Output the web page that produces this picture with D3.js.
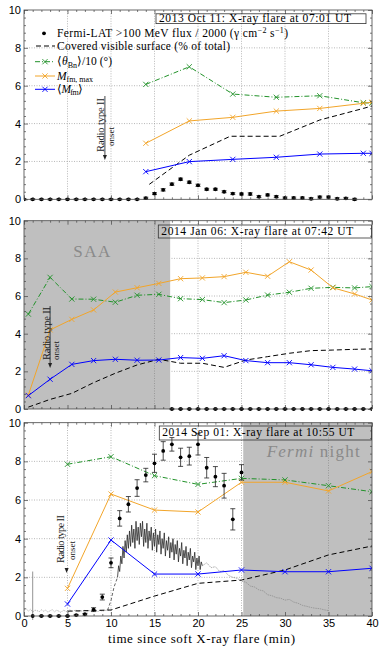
<!DOCTYPE html>
<html><head><meta charset="utf-8">
<script src="https://cdn.jsdelivr.net/npm/d3@7"></script>
<style>body{margin:0;background:#fff}svg{display:block}</style>
</head><body>
<script>
// ---------------- DATA ----------------
const xTicks = [0,5,10,15,20,25,30,35,40];
const yTicks = [0,2,4,6,8,10];
const titles = ["2013 Oct 11: X-ray flare at 07:01 UT","2014 Jan 06: X-ray flare at 07:42 UT","2014 Sep 01: X-ray flare at 10:55 UT"];

// Panel 1 (2013 Oct 11)
const p1FermiTime = [0,1,2,3,4,5,6,7,8,9,10,11,12,13,14,15,16,17,18,19,20,21,22,23,24,25,26,27,28,29,30,31,32,33,34,35,36,37,38];
const p1FermiFlux = [0,0,0,0,0,0,0,0,0,0,0,0,0,0,0.06,0.3,0.5,0.8,1.06,0.9,0.74,0.53,0.53,0.4,0.3,0.28,0.28,0.14,0.23,0.14,0.07,0.07,0.07,0.03,0.12,0.12,0.03,0.05,0];
const p1FermiErr  = [0.03,0.03,0.03,0.03,0.03,0.03,0.03,0.03,0.03,0.03,0.03,0.03,0.03,0.03,0.05,0.05,0.06,0.06,0.06,0.06,0.06,0.05,0.05,0.05,0.05,0.05,0.06,0.05,0.05,0.05,0.05,0.05,0.05,0.05,0.05,0.05,0.05,0.05,0.05];
const p1Time  = [14,19,24,29,34,39,40];
const p1Theta = [6.07,7.0,5.56,5.39,5.47,5.1,5.08];
const p1Mmax  = [2.96,4.14,4.33,4.66,4.8,5.07,5.13];
const p1Mfm   = [1.46,1.99,2.11,2.22,2.39,2.43,2.43];
const p1CovTime = [14.4,19,23.7,29.4,34,39,40];
const p1Cov     = [0.79,2.33,3.33,3.33,4.19,4.8,4.93];

// Panel 2 (2014 Jan 06)
const p2FermiTime = [17,18,19,20,21,22,23,24,25,26,27,28,29,30,31,32,33,34,35,36,37,38,39,40];
const p2FermiFlux = [0,0,0,0,0,0,0,0,0,0,0,0,0,0,0,0,0,0,0,0,0,0,0,0];
const p2FermiErr  = [0.03,0.03,0.03,0.03,0.03,0.03,0.03,0.03,0.03,0.03,0.03,0.03,0.03,0.03,0.03,0.03,0.03,0.03,0.03,0.03,0.03,0.03,0.03,0.03];
const p2Time  = [0.5,3,5.5,8,10.5,13,15.5,18,20.5,23,25.5,28,30.5,33,35.5,38,40];
const p2Theta = [5.04,6.99,5.84,5.83,5.67,6.04,6.09,5.86,5.81,5.65,5.79,6.05,6.2,6.41,6.46,6.43,6.5];
const p2Mmax  = [0.74,4.2,4.76,5.26,6.21,6.44,6.67,6.92,6.96,7.03,7.26,7.05,7.82,7.38,6.44,6.11,5.79];
const p2Mfm   = [0.71,1.58,2.37,2.57,2.64,2.59,2.6,2.73,2.69,2.83,2.57,2.46,2.46,2.35,2.21,2.12,2.03];
const p2Cov   = [0.1,0.51,0.83,1.4,1.9,2.34,2.64,2.43,2.43,2.21,2.6,2.78,2.96,3.1,3.13,3.17,3.19];
const p2Shade = [0,16.8];

// Panel 3 (2014 Sep 01)
const p3FermiTime = [1,2,3,4,5,6,7,8,9,10,11,12,13,14,15,16,17,18,19,20,21,22,23,24,25];
const p3FermiFlux = [0,0,0,0,0,0.05,0.09,0.33,0.98,2.75,5.05,5.78,6.62,7.29,7.9,8.54,8.88,8.21,8.27,8.88,7.67,7.21,6.74,5.0,7.43];
const p3FermiErr  = [2.3,0.03,0.03,0.03,0.03,0.03,0.04,0.1,0.15,0.25,0.4,0.4,0.43,0.35,0.47,0.48,0.35,0.47,0.46,0.55,0.53,0.52,0.64,0.55,0.4];
const p3Time  = [5,10,15,20,25,30,35,40];
const p3Theta = [7.85,8.24,7.26,6.81,7.12,7.04,6.74,6.43];
const p3Mmax  = [1.43,6.31,5.48,5.38,6.92,6.92,6.47,7.47];
const p3Mfm   = [0.62,3.93,2.17,2.17,2.38,2.29,2.29,2.47];
const p3Cov   = [0.25,0.31,1.03,1.69,1.86,2.38,3.16,3.62];
const p3Shade = [25.2,40];
// unlabelled grey light curve in panel 3 (uniformly sampled segments)
const grayPreStart = 0, grayPreStep = 0.25;
const grayPre  = [0.3,0.38,0.25,0.35,0.2,0.3,0.28,0.22,0.32,0.25,0.3,0.2,0.27,0.33,0.22,0.3,0.25,0.18,0.3,0.26,0.2,0.32,0.24,0.28,0.3,0.22,0.27,0.25,0.3,0.2,0.28,0.24,0.3,0.26,0.22,0.3,0.25,0.28,0.3,0.32];
const grayRiseTime = [9.6,10.0,10.35,10.75];
const grayRise = [0.3,0.8,1.5,2.0];
const grayMainStart = 10.75, grayMainStep = 0.125;
const grayMain = [2.0,2.6,2.3,3.1,2.7,3.6,3.0,3.9,3.3,4.2,3.5,4.4,3.6,4.7,3.8,4.5,3.5,4.9,3.9,4.6,3.7,4.8,4.1,4.9,3.6,4.5,3.8,4.8,3.5,4.4,3.9,4.6,3.4,4.3,3.6,4.5,3.3,4.2,3.7,4.4,3.2,4.0,3.5,4.3,3.1,3.9,3.4,4.1,3.0,3.8,3.3,4.0,2.9,3.7,3.2,3.9,2.8,3.5,3.1,3.8,2.7,3.4,3.0,3.6,2.6,3.3,2.9,3.5,2.5,3.1,2.8,3.3,2.4,3.0,2.6,3.1,2.4,2.8,2.6];
const grayTailStart = 20.5, grayTailStep = 0.5;
const grayTail = [2.6,2.75,2.5,2.55,2.3,2.35,2.1,2.0,1.95,1.8,1.75,1.55,1.5,1.35,1.3,1.1,1.05,0.95,0.92,0.82,0.86,0.72,0.66,0.55,0.5,0.44,0.4,0.38,0.32,0.28];

const radioOnset = [9.3, 3.0, 4.9];

// ---------------- DRAW ----------------
const W = 382, H = 654;
const svg = d3.select("body").append("svg").attr("width", W).attr("height", H);
const x = d3.scaleLinear().domain([0, 40]).range([24, 372]);
const panelBox = [{top:10, bot:199.3},{top:220.7, bot:409},{top:422.7, bot:616}];
const SERIF = "'Liberation Serif','Times New Roman',serif";
const SANS = "'Liberation Sans',Arial,sans-serif";
const C = {green:"#22922a", orange:"#f2a52a", blue:"#0000ff", shade:"#bfbfbf", grid:"#9a9a9a", axis:"#444"};

const panels = [
  {ft:p1FermiTime, ff:p1FermiFlux, fe:p1FermiErr, t:p1Time, th:p1Theta, mm:p1Mmax, mf:p1Mfm, ct:p1CovTime, cv:p1Cov, shade:null},
  {ft:p2FermiTime, ff:p2FermiFlux, fe:p2FermiErr, t:p2Time, th:p2Theta, mm:p2Mmax, mf:p2Mfm, ct:p2Time, cv:p2Cov, shade:p2Shade},
  {ft:p3FermiTime, ff:p3FermiFlux, fe:p3FermiErr, t:p3Time, th:p3Theta, mm:p3Mmax, mf:p3Mfm, ct:p3Time, cv:p3Cov, shade:p3Shade}
];

const xMarker = "M-2.6,-2.6L2.6,2.6M-2.6,2.6L2.6,-2.6";

panels.forEach((P, i) => {
  const pb = panelBox[i];
  const y = d3.scaleLinear().domain([0, 10]).range([pb.bot, pb.top]);
  const g = svg.append("g");
  const clipId = "clip" + i;
  svg.append("clipPath").attr("id", clipId).append("rect")
    .attr("x", x(0)).attr("y", y(10)).attr("width", x(40) - x(0)).attr("height", y(0) - y(10) + 4);
  const pg = g.append("g").attr("clip-path", `url(#${clipId})`);

  // grid
  xTicks.slice(1, -1).forEach(v => pg.append("line").attr("x1", x(v)).attr("x2", x(v)).attr("y1", y(0)).attr("y2", y(10))
    .attr("stroke", C.grid).attr("stroke-width", 0.7).attr("stroke-dasharray", "1,1.5"));
  yTicks.slice(1, -1).forEach(v => pg.append("line").attr("x1", x(0)).attr("x2", x(40)).attr("y1", y(v)).attr("y2", y(v))
    .attr("stroke", C.grid).attr("stroke-width", 0.7).attr("stroke-dasharray", "1,1.5"));

  // shading
  if (P.shade) {
    pg.append("rect").attr("x", x(P.shade[0])).attr("y", y(10)).attr("width", x(P.shade[1]) - x(P.shade[0]))
      .attr("height", y(0) - y(10)).attr("fill", C.shade);
  }
  if (i === 1) pg.append("line").attr("x1", x(15)).attr("x2", x(15)).attr("y1", y(0)).attr("y2", y(10))
    .attr("stroke", "#888").attr("stroke-width", 0.7).attr("stroke-dasharray", "1,1.5");
  if (i === 2) pg.append("line").attr("x1", x(35)).attr("x2", x(35)).attr("y1", y(0)).attr("y2", y(10))
    .attr("stroke", "#888").attr("stroke-width", 0.7).attr("stroke-dasharray", "1,1.5");

  // shade labels
  if (i === 1) g.append("text").attr("x", 91.7).attr("y", y(8.09)).attr("text-anchor", "middle")
    .attr("font-family", SERIF).attr("font-size", 17).attr("fill", "#8a8a8a")
    .attr("textLength", 37).attr("lengthAdjust", "spacing").text("SAA");
  if (i === 2) {
    const tt = g.append("text").attr("x", 266.7).attr("y", y(8.24))
      .attr("font-family", SERIF).attr("font-size", 17).attr("fill", "#8a8a8a")
      .attr("textLength", 93).attr("lengthAdjust", "spacing");
    tt.append("tspan").attr("font-style", "italic").text("Fermi");
    tt.append("tspan").text(" night");
  }

  // grey light curve (panel 3)
  if (i === 2) {
    const ln = d3.line().x(d => x(d[0])).y(d => y(d[1]));
    const pre = grayPre.map((v, k) => [grayPreStart + k * grayPreStep, v]);
    const rise = grayRise.map((v, k) => [grayRiseTime[k], v]);
    const main = grayMain.map((v, k) => [grayMainStart + k * grayMainStep, v]);
    const tail = grayTail.map((v, k) => [grayTailStart + k * grayTailStep, v]);
    pg.append("path").attr("d", ln(pre)).attr("fill", "none").attr("stroke", "#999").attr("stroke-width", 0.7).attr("stroke-dasharray", "1.5,1");
    pg.append("path").attr("d", ln(rise)).attr("fill", "none").attr("stroke", "#555").attr("stroke-width", 0.9).attr("stroke-dasharray", "3,2");
    pg.append("path").attr("d", ln(main)).attr("fill", "none").attr("stroke", "#2a2a2a").attr("stroke-width", 0.8);
    pg.append("path").attr("d", ln(tail)).attr("fill", "none").attr("stroke", "#8a8a8a").attr("stroke-width", 0.7).attr("stroke-dasharray", "1.5,0.8");
  }

  const line = d3.line().x(d => x(d[0])).y(d => y(d[1]));
  // covered surface
  pg.append("path").attr("d", line(P.cv.map((v, k) => [P.ct[k], v]))).attr("fill", "none")
    .attr("stroke", "#000").attr("stroke-width", 1).attr("stroke-dasharray", "5,3");
  // series
  [[P.th, C.green, "5,2,1,2"], [P.mm, C.orange, null], [P.mf, C.blue, null]].forEach(([vals, col, dash]) => {
    const pts = vals.map((v, k) => [P.t[k], v]);
    const p = pg.append("path").attr("d", line(pts)).attr("fill", "none").attr("stroke", col).attr("stroke-width", 1);
    if (dash) p.attr("stroke-dasharray", dash);
    pg.selectAll(null).data(pts).enter().append("path").attr("d", xMarker)
      .attr("transform", d => `translate(${x(d[0])},${y(d[1])})`).attr("stroke", col).attr("stroke-width", 0.9).attr("fill", "none");
  });
  // Fermi points with error bars
  const fd = P.ff.map((v, k) => ({t: P.ft[k], v, e: P.fe[k]}));
  pg.selectAll(null).data(fd).enter().append("line")
    .attr("x1", d => x(d.t)).attr("x2", d => x(d.t)).attr("y1", d => y(d.v - d.e)).attr("y2", d => y(d.v + d.e))
    .attr("stroke", d => (i === 2 && d.t === 1) ? "#777" : "#222").attr("stroke-width", 0.8);
  pg.selectAll(null).data(fd.filter(d => !(i === 2 && d.t === 1))).enter().append("path")
    .attr("d", d => `M${x(d.t) - 2.5},${y(d.v + d.e)}H${x(d.t) + 2.5}M${x(d.t) - 2.5},${y(d.v - d.e)}H${x(d.t) + 2.5}`)
    .attr("stroke", "#222").attr("stroke-width", 0.8);
  pg.selectAll(null).data(fd).enter().append("circle")
    .attr("cx", d => x(d.t)).attr("cy", d => y(d.v)).attr("r", 1.9).attr("fill", "#000");

  // axes (inward ticks on all sides)
  const minorX = d3.range(0, 41, 1).filter(v => v % 5 !== 0);
  const minorY = d3.range(0, 10.01, 0.4).filter(v => Math.abs(v / 2 - Math.round(v / 2)) > 1e-6);
  const ax = (gen, tr) => { const a = g.append("g").attr("transform", tr).call(gen); a.select(".domain").remove(); return a; };
  ax(d3.axisBottom(x).tickValues(xTicks).tickSizeInner(-4).tickSizeOuter(0).tickPadding(3)
    .tickFormat(i === 2 ? d3.format("d") : () => ""), `translate(0,${y(0)})`);
  ax(d3.axisBottom(x).tickValues(minorX).tickSizeInner(-2).tickSizeOuter(0).tickFormat(() => ""), `translate(0,${y(0)})`);
  ax(d3.axisTop(x).tickValues(xTicks).tickSizeInner(-4).tickSizeOuter(0).tickFormat(() => ""), `translate(0,${y(10)})`);
  ax(d3.axisTop(x).tickValues(minorX).tickSizeInner(-2).tickSizeOuter(0).tickFormat(() => ""), `translate(0,${y(10)})`);
  ax(d3.axisLeft(y).tickValues(yTicks).tickSizeInner(-4).tickSizeOuter(0).tickPadding(3).tickFormat(d3.format("d")), `translate(${x(0)},0)`);
  ax(d3.axisLeft(y).tickValues(minorY).tickSizeInner(-2).tickSizeOuter(0).tickFormat(() => ""), `translate(${x(0)},0)`);
  ax(d3.axisRight(y).tickValues(yTicks).tickSizeInner(-4).tickSizeOuter(0).tickFormat(() => ""), `translate(${x(40)},0)`);
  ax(d3.axisRight(y).tickValues(minorY).tickSizeInner(-2).tickSizeOuter(0).tickFormat(() => ""), `translate(${x(40)},0)`);
  g.selectAll(".tick line").attr("stroke", C.axis).attr("stroke-width", 0.7);
  g.selectAll(".tick text").attr("font-family", SANS).attr("font-size", 11).attr("fill", "#000");
  g.append("rect").attr("x", x(0)).attr("y", y(10)).attr("width", x(40) - x(0)).attr("height", y(0) - y(10))
    .attr("fill", "none").attr("stroke", C.axis).attr("stroke-width", 0.8);

  // title box
  const tb = [{x0:156, y0:13.8, y1:23.6, base:22}, {x0:158.3, y0:225, y1:238, base:235.3}, {x0:159.3, y0:426, y1:440, base:436}][i];
  g.append("rect").attr("x", tb.x0).attr("y", tb.y0).attr("width", (i === 0 ? 366 : 371.5) - tb.x0).attr("height", tb.y1 - tb.y0)
    .attr("fill", "none").attr("stroke", "#333").attr("stroke-width", 0.8);
  g.append("text").attr("x", tb.x0 + 3).attr("y", tb.base).attr("font-family", SERIF).attr("font-size", 11.5)
    .attr("textLength", 192).attr("lengthAdjust", "spacing")
    .attr("fill", "#000").text(titles[i]);

  // radio type II onset annotation
  const rx = x(radioOnset[i]);
  const rl = [{top:96, tip:160, tb:152, ob:146, dr:-1, dO:9, len:54},
              {top:306, tip:368, tb:360, ob:360, dr:-0.5, dO:9, len:53},
              {top:null, tip:573, tb:563, ob:560, dr:-3, dO:8, len:48}][i];
  if (rl.top !== null) g.append("line").attr("x1", rx).attr("x2", rx).attr("y1", rl.top).attr("y2", rl.tip - 3)
    .attr("stroke", "#333").attr("stroke-width", 0.9);
  g.append("path").attr("d", `M${rx - 2},${rl.tip - 5}L${rx},${rl.tip}L${rx + 2},${rl.tip - 5}Z`).attr("fill", "#222");
  g.append("text").attr("transform", `translate(${rx + rl.dr},${rl.tb}) rotate(-90)`).attr("font-family", SERIF)
    .attr("font-size", 10.5).attr("fill", "#222").attr("textLength", rl.len).attr("lengthAdjust", "spacing").text("Radio type II");
  g.append("text").attr("transform", `translate(${rx + rl.dO},${rl.ob}) rotate(-90)`).attr("font-family", SERIF)
    .attr("font-size", 9).attr("fill", "#222").attr("textLength", 19).attr("lengthAdjust", "spacing").text("onset");
});

// x-axis label
svg.append("text").attr("x", 108).attr("y", 643).attr("font-family", SERIF)
  .attr("font-size", 13).attr("fill", "#000").attr("textLength", 187).attr("lengthAdjust", "spacing")
  .text("time since soft X-ray flare (min)");

// legend (panel 1)
const lg = svg.append("g").attr("font-family", SERIF).attr("font-size", 11.5).attr("fill", "#000");
const rows = [33.3, 46, 61.7, 76, 89.3];
lg.append("circle").attr("cx", 44).attr("cy", rows[0]).attr("r", 1.9).attr("fill", "#000");
const t0 = lg.append("text").attr("x", 57).attr("y", rows[0] + 3.5).attr("textLength", 231).attr("lengthAdjust", "spacing");
t0.append("tspan").text("Fermi-LAT >100 MeV flux / 2000 (γ cm");
t0.append("tspan").attr("dy", -4).attr("font-size", 8).text("−2");
t0.append("tspan").attr("dy", 4).text(" s");
t0.append("tspan").attr("dy", -4).attr("font-size", 8).text("−1");
t0.append("tspan").attr("dy", 4).text(")");
lg.append("line").attr("x1", 36).attr("x2", 55).attr("y1", rows[1]).attr("y2", rows[1]).attr("stroke", "#000").attr("stroke-dasharray", "5,3");
lg.append("text").attr("x", 57).attr("y", rows[1] + 3.5).attr("textLength", 173).attr("lengthAdjust", "spacing")
  .text("Covered visible surface (% of total)");
[[C.green, "5,2,1,2"], [C.orange, null], [C.blue, null]].forEach(([col, dash], k) => {
  const yy = rows[2 + k];
  const l = lg.append("line").attr("x1", 35).attr("x2", 55).attr("y1", yy).attr("y2", yy).attr("stroke", col).attr("stroke-width", 1);
  if (dash) l.attr("stroke-dasharray", dash);
  lg.append("path").attr("d", xMarker).attr("transform", `translate(45,${yy})`).attr("stroke", col).attr("stroke-width", 0.9).attr("fill", "none");
});
const t2 = lg.append("text").attr("x", 57).attr("y", rows[2] + 3.5).attr("textLength", 55).attr("lengthAdjust", "spacing");
t2.append("tspan").text("⟨");
t2.append("tspan").attr("font-style", "italic").text("θ");
t2.append("tspan").attr("dy", 2.5).attr("font-size", 8).text("Bn");
t2.append("tspan").attr("dy", -2.5).text("⟩/10 (°)");
const t3 = lg.append("text").attr("x", 57).attr("y", rows[3] + 3.5).attr("textLength", 36).attr("lengthAdjust", "spacing");
t3.append("tspan").attr("font-style", "italic").text("M");
t3.append("tspan").attr("dy", 2.5).attr("font-size", 8).text("fm, max");
const t4 = lg.append("text").attr("x", 57).attr("y", rows[4] + 3.5).attr("textLength", 26).attr("lengthAdjust", "spacing");
t4.append("tspan").text("⟨");
t4.append("tspan").attr("font-style", "italic").text("M");
t4.append("tspan").attr("dy", 2.5).attr("font-size", 8).text("fm");
t4.append("tspan").attr("dy", -2.5).text("⟩");
</script>
</body></html>
